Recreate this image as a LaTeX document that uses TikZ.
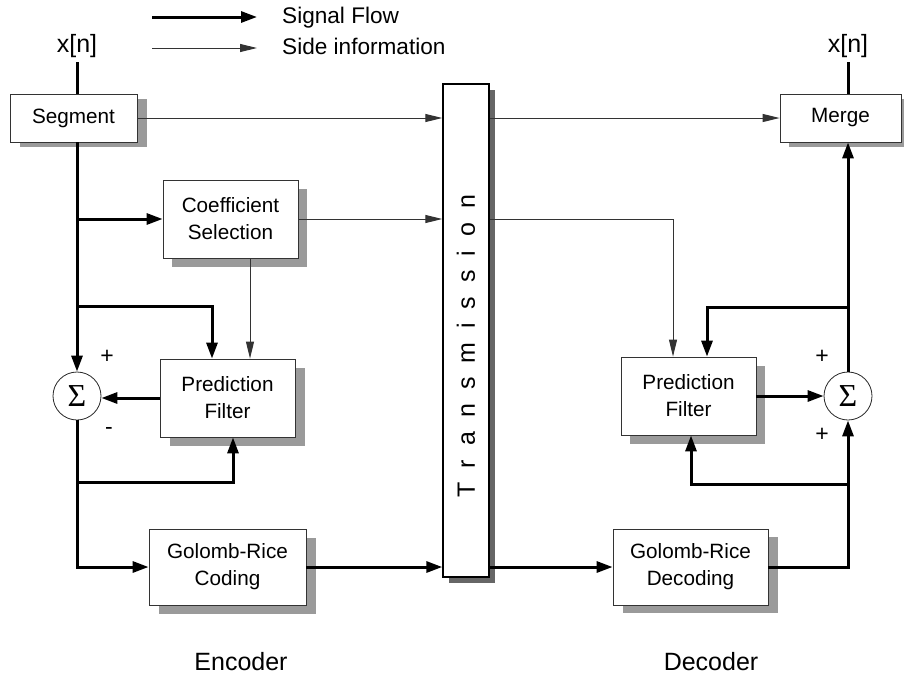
\documentclass[tikz,border=0pt]{standalone}
\usepackage{fontspec}
\setmainfont{Liberation Sans}
\newfontfamily\sigfont{Liberation Serif}
\usetikzlibrary{arrows.meta,shadows,calc}
\definecolor{shgray}{HTML}{9A9A9A}
\definecolor{shdark}{HTML}{666666}
\newcommand\tgap{\hspace{14pt}}
\begin{document}
\begin{tikzpicture}[x=1pt,y=-1pt,
  box/.style={draw=black!80, line width=0.8pt, fill=white, align=center,
    font=\fontsize{20.7}{27}\selectfont, inner sep=0pt},
  shad/.style 2 args={drop shadow={shadow xshift=#1pt, shadow yshift=-#2pt, fill=shgray, opacity=1}},
  sig/.style={line width=3pt, -{Triangle[length=16pt,width=11pt]}},
  sigline/.style={line width=3pt},
  side/.style={line width=1pt, draw=black!80, -{Triangle[length=17pt,width=8pt]}},
  sumnode/.style={circle, draw=black!85, line width=0.8pt, fill=white, minimum size=48pt, inner sep=0pt,
    font=\sigfont\fontsize{32}{32}\selectfont},
  pm/.style={font=\fontsize{23}{24}\selectfont, inner sep=0pt},
  biglbl/.style={font=\fontsize{25}{28}\selectfont, inner sep=0pt},
  leglbl/.style={font=\fontsize{22.6}{26}\selectfont, inner sep=0pt}
]
\useasboundingbox (0,0) rectangle (904,675);

% legend
\coordinate (l1a) at (152,17);
\coordinate (l1b) at (257,17);
\coordinate (l2a) at (152,48);
\coordinate (l2b) at (257,48);
\draw[sig] (l1a) -- (l1b);
\draw[side] (l2a) -- (l2b);
\node[leglbl, anchor=west] (lt1) at (282,18) {Signal Flow};
\node[leglbl, anchor=west] (lt2) at (282,46) {Side information};

% nodes
\node[biglbl] (xin) at (77,46) {x[n]};
\node[biglbl] (xout) at (848,46) {x[n]};
\node[box, minimum width=127pt, minimum height=48pt, shad={10}{5}] (seg) at (73.5,118) {Segment};
\node[box, minimum width=121pt, minimum height=48pt, shad={9}{5}] (merge) at (840.5,118) {Merge};
\node[box, minimum width=135pt, minimum height=78pt, shad={9}{9}] (coef) at (230.5,219) {Coefficient\\Selection};
\node[box, minimum width=135pt, minimum height=78pt, shad={10}{9}] (predL) at (227.5,398) {Prediction\\Filter};
\node[box, minimum width=135pt, minimum height=78pt, shad={9}{9}] (predR) at (688.5,396) {Prediction\\Filter};
\node[box, minimum width=157pt, minimum height=76pt, shad={10}{9}] (golL) at (227.5,567) {Golomb-Rice\\Coding};
\node[box, minimum width=155pt, minimum height=76pt, shad={10}{8}] (golR) at (690.5,567) {Golomb-Rice\\Decoding};
\node[draw=black, line width=1.4pt, fill=white, minimum width=46pt, minimum height=493pt, inner sep=0pt,
  drop shadow={shadow xshift=6pt, shadow yshift=-6pt, fill=shdark, opacity=1}] (trans) at (466,330.5) {};
\node[rotate=90, font=\fontsize{25}{25}\selectfont, inner sep=0pt] (ttext) at (466,346)
  {T\tgap r\tgap a\tgap n\tgap s\tgap m\tgap i\tgap s\tgap s\tgap i\tgap o\tgap n};
\node[sumnode] (sigL) at (77,396) {Σ};
\node[sumnode] (sigR) at (848,396) {Σ};

\node[pm] (p1) at (107,357) {+};
\node[pm] (m1) at (109,431) {-};
\node[pm] (p2) at (822,357) {+};
\node[pm] (p3) at (822,435) {+};

\node[biglbl] (enc) at (241,662) {Encoder};
\node[biglbl] (dec) at (711,662) {Decoder};

% coordinates
\coordinate (xinEnd) at (77,62);
\coordinate (xoutEnd) at (848,62);
\coordinate (b1) at (77,306);
\coordinate (b2) at (77,482);
\coordinate (b3) at (848,484);
\coordinate (b4) at (848,307);

% encoder
\draw[sigline] (xinEnd) -- (seg.north -| xinEnd);
\draw[side] (seg.east) -- (seg.east -| trans.west);
\draw[sig] (seg.south -| sigL) -- (sigL.north);
\draw[sig] (coef.west -| sigL) -- (coef.west);
\draw[sig] (b1) -| ([xshift=-15.5pt]predL.north);
\draw[side] ([xshift=19.5pt]coef.south) -- ([xshift=19.5pt]coef.south |- predL.north);
\draw[side] (coef.east) -- (coef.east -| trans.west);
\draw[sig] (predL.west) -- (predL.west -| sigL.east);
\draw[sig] (sigL.south) |- (golL.west);
\draw[sig] (b2) -| ([xshift=5.5pt]predL.south);
\draw[sig] (golL.east) -- (golL.east -| trans.west);

% decoder
\draw[side] (trans.east |- merge.west) -- (merge.west);
\draw[side] (trans.east |- coef.east) -| ([xshift=-15.5pt]predR.north);
\draw[sig] (trans.east |- golR.west) -- (golR.west);
\draw[sig] (golR.east) -| (sigR.south);
\draw[sig] (b3) -| ([xshift=2.5pt]predR.south);
\draw[sig] (predR.east) -- (predR.east -| sigR.west);
\draw[sig] (sigR.north) -- (merge.south -| sigR);
\draw[sig] (b4) -| ([xshift=18.5pt]predR.north);
\draw[sigline] (merge.north -| xoutEnd) -- (xoutEnd);
\end{tikzpicture}
\end{document}
